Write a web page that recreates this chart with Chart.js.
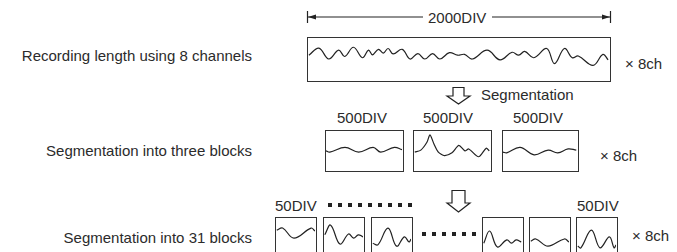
<!DOCTYPE html>
<html>
<head>
<meta charset="utf-8">
<script src="https://cdn.jsdelivr.net/npm/chart.js@4.4.1/dist/chart.umd.min.js"></script>
<style>
    body { margin: 0; background: #fff; }
    #stage { position: relative; width: 677px; height: 252px; overflow: hidden; font-family: "Liberation Sans", Arial, sans-serif; font-size: 15px; color: #2b2b2b; }
    .txt { position: absolute; white-space: nowrap; line-height: 17px; transform: translateY(-50%); }
    .box { position: absolute; border: 1.5px solid #333; box-sizing: border-box; }
    .box canvas { display: block; }
    svg { position: absolute; left: 0; top: 0; }
</style>
</head>
<body>
<div id="stage">
    <svg width="677" height="252">
        <!-- dimension line for the full record -->
        <line x1="307" y1="17" x2="423" y2="17" stroke="#222" stroke-width="1.2"/>
        <line x1="492" y1="17" x2="611" y2="17" stroke="#222" stroke-width="1.2"/>
        <line x1="307.5" y1="11" x2="307.5" y2="23" stroke="#222" stroke-width="1.2"/>
        <line x1="610.5" y1="11" x2="610.5" y2="23" stroke="#222" stroke-width="1.2"/>
        <polygon points="308,17 316,14.5 316,19.5" fill="#222"/>
        <polygon points="610,17 602,14.5 602,19.5" fill="#222"/>
        <!-- hollow arrows -->
        <polygon points="453,87.5 464,87.5 464,96 470,96 458.5,104 447,96 453,96" fill="#fff" stroke="#222" stroke-width="1.2"/>
        <polygon points="452,190.5 465,190.5 465,203 470,203 458.5,212 447,203 452,203" fill="#fff" stroke="#222" stroke-width="1.2"/>
        <!-- dotted runs -->
        <line x1="328" y1="205" x2="414" y2="205" stroke="#222" stroke-width="4" stroke-dasharray="4 6"/>
        <line x1="422" y1="234" x2="478" y2="234" stroke="#222" stroke-width="4" stroke-dasharray="4 6"/>
    </svg>

    <div class="txt" style="right:425px; top:55px;">Recording length using 8 channels</div>
    <div class="txt" style="right:425px; top:150px;">Segmentation into three blocks</div>
    <div class="txt" style="right:425px; top:237px;">Segmentation into 31 blocks</div>

    <div class="txt" style="left:428px; top:17px;">2000DIV</div>
    <div class="txt" style="left:481px; top:94px;">Segmentation</div>
    <div class="txt" style="left:337px; top:117px;">500DIV</div>
    <div class="txt" style="left:423px; top:117px;">500DIV</div>
    <div class="txt" style="left:513px; top:117px;">500DIV</div>
    <div class="txt" style="left:275px; top:205px;">50DIV</div>
    <div class="txt" style="left:577px; top:205px;">50DIV</div>

    <div class="txt" style="left:625px; top:63px;">× 8ch</div>
    <div class="txt" style="left:600px; top:155px;">× 8ch</div>
    <div class="txt" style="left:632px; top:235px;">× 8ch</div>
</div>

<script>
// waveform samples, [position 0-100, level 0-100] inside each block
const fullRecord = [
    [0.3, 59], [3.6, 76], [6.9, 50], [10.2, 71], [12.2, 56], [15.1, 78], [18.1, 53],
    [20.1, 71], [21.4, 60], [23.4, 73], [25, 64], [26.6, 75], [28.3, 62], [31.3, 73],
    [33.9, 50], [36.5, 63], [38.8, 50], [41.4, 63], [43.8, 50], [47, 65], [49.7, 59],
    [52, 61], [54.6, 50], [59.5, 71], [63.8, 48], [67.8, 66], [70, 59], [72, 68],
    [75, 53], [79.3, 75], [81.9, 39], [85.2, 75], [87.8, 53], [89.8, 57], [94.7, 35],
    [98, 61], [99.7, 48]
];

const block1of3 = [[0, 49], [5, 46], [25, 58], [43, 46], [62, 58], [72, 46], [90, 58], [100, 52]];
const block2of3 = [
    [1, 46], [9, 51], [17, 71], [21, 90], [26, 68], [32, 46], [40, 37], [50, 44],
    [59, 63], [67, 49], [72, 54], [85, 34], [95, 56], [99, 49]
];
const block3of3 = [[0, 46], [5, 44], [23, 58], [42, 39], [61, 51], [74, 44], [88, 54], [99, 51]];

const block1of31 = [[2, 71], [17, 76], [46, 52], [90, 76], [100, 69]];
const block2of31 = [[2, 60], [17, 83], [41, 38], [63, 62], [76, 52], [88, 60], [100, 55]];
const block3of31 = [[2, 40], [15, 36], [41, 76], [63, 33], [83, 55], [95, 43], [100, 50]];
const block29of31 = [[2, 40], [17, 69], [37, 31], [61, 48], [73, 40], [85, 48], [98, 43]];
const block30of31 = [[2, 45], [15, 50], [46, 33], [88, 50], [100, 43]];
const block31of31 = [[2, 33], [10, 29], [37, 71], [59, 29], [83, 55], [95, 29], [100, 36]];

// where each block sits on the page
const blocks = [
    { wave: fullRecord, left: 307, top: 37, width: 304, height: 45 },
    { wave: block1of3, left: 325, top: 130, width: 79, height: 42 },
    { wave: block2of3, left: 413, top: 130, width: 79, height: 42, tension: 0.25 },
    { wave: block3of3, left: 502, top: 130, width: 77, height: 42 },
    { wave: block1of31, left: 275, top: 217, width: 42, height: 45 },
    { wave: block2of31, left: 323, top: 217, width: 42, height: 45 },
    { wave: block3of31, left: 371, top: 217, width: 42, height: 45 },
    { wave: block29of31, left: 482, top: 217, width: 42, height: 45 },
    { wave: block30of31, left: 529, top: 217, width: 42, height: 45 },
    { wave: block31of31, left: 576, top: 217, width: 42, height: 45 }
];

function drawBlock(b) {
    const div = document.createElement('div');
    div.className = 'box';
    div.style.left = b.left + 'px';
    div.style.top = b.top + 'px';
    div.style.width = b.width + 'px';
    div.style.height = b.height + 'px';
    const canvas = document.createElement('canvas');
    canvas.width = b.width - 3;
    canvas.height = b.height - 3;
    div.appendChild(canvas);
    document.getElementById('stage').appendChild(div);

    new Chart(canvas.getContext('2d'), {
        type: 'line',
        data: {
            datasets: [{
                data: b.wave.map(p => ({ x: p[0], y: p[1] })),
                borderColor: '#222',
                borderWidth: 1.2,
                pointRadius: 0,
                fill: false,
                tension: b.tension || 0.4
            }]
        },
        options: {
            responsive: false,
            animation: false,
            events: [],
            layout: { padding: 0 },
            plugins: { legend: { display: false }, tooltip: { enabled: false } },
            scales: {
                x: { type: 'linear', min: 0, max: 100, display: false },
                y: { min: 0, max: 100, display: false }
            }
        }
    });
}

blocks.forEach(drawBlock);
</script>
</body>
</html>
